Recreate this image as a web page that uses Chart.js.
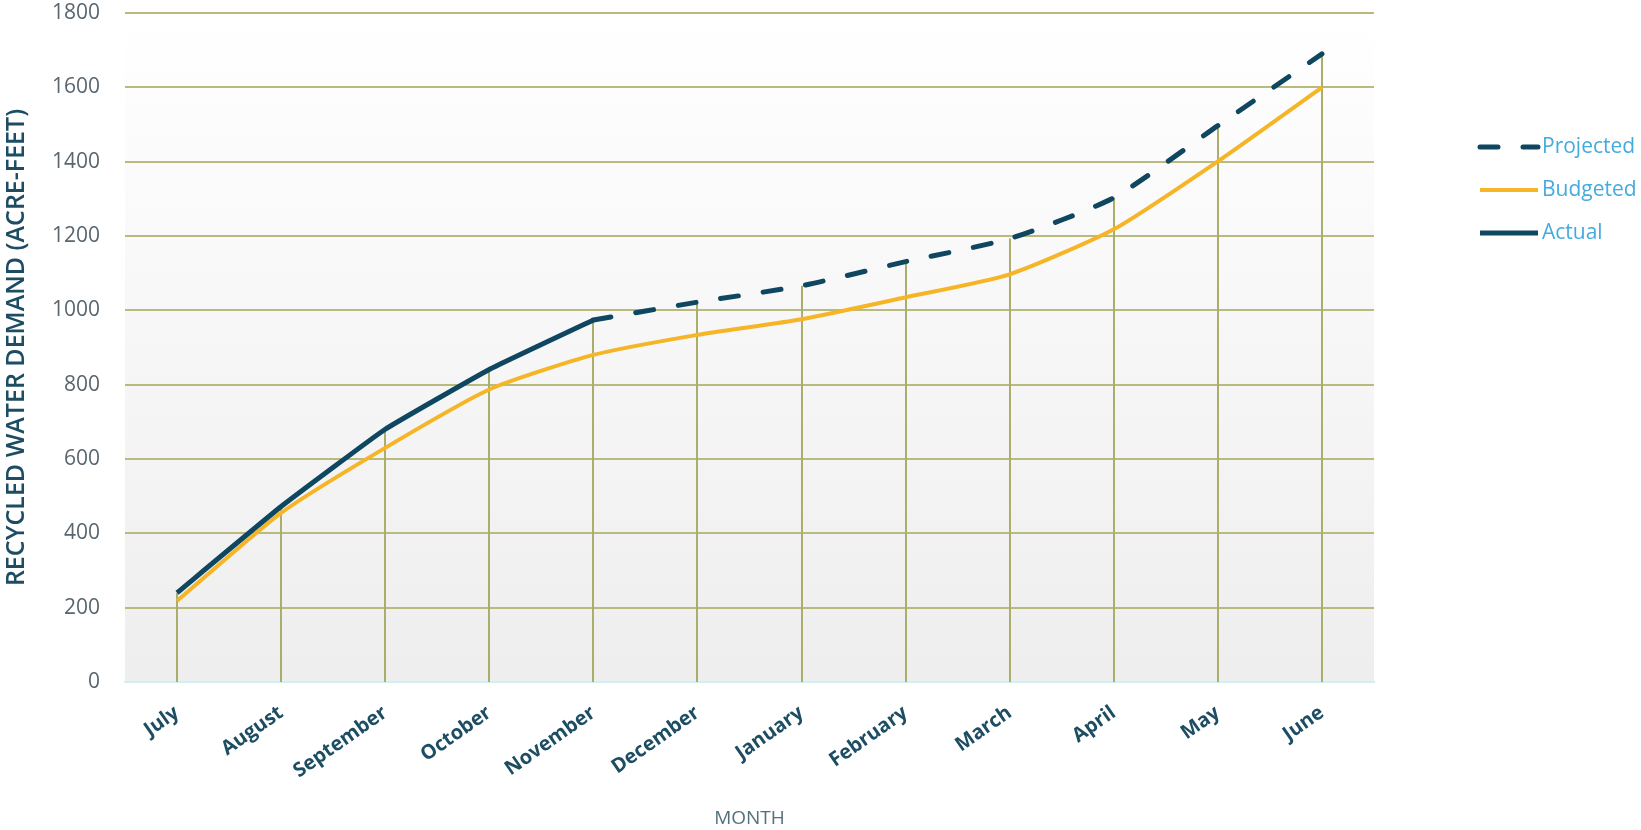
<!DOCTYPE html>
<html>
<head>
<meta charset="utf-8">
<title>Recycled Water Demand</title>
<script src="https://cdn.jsdelivr.net/npm/chart.js@4/dist/chart.umd.min.js"></script>
<style>
    html, body { margin: 0; padding: 0; background: #ffffff; }
    #wrap { width: 1641px; height: 830px; position: relative; }
</style>
</head>
<body>
<div id="wrap"><canvas id="chart"></canvas></div>
<script>
// fiscal year, July to June
const months = ["July", "August", "September", "October", "November", "December",
    "January", "February", "March", "April", "May", "June"];

// acre-feet, cumulative
const projected = [null, null, null, null, 974, 1022, 1066, 1131, 1193, 1303, 1497, 1690];
const budgeted = [218, 455, 630, 787, 880, 934, 976, 1035, 1097, 1218, 1401, 1600];
const actual = [240, 472, 680, 841, 974, null, null, null, null, null, null, null];

const yMin = 0;
const yMax = 1800;
const yStep = 200;

const DARK = "#0f4660";
const ORANGE = "#f5b526";
const OLIVE = "#b9bb7e";

// white-to-grey wash behind the plot
const plotBackground = {
    id: "plotBackground",
    beforeDraw(chart) {
        const { ctx, chartArea: a } = chart;
        const g = ctx.createLinearGradient(0, a.top, 0, a.bottom);
        g.addColorStop(0, "#ffffff");
        g.addColorStop(1, "#eeeeee");
        ctx.save();
        ctx.fillStyle = g;
        ctx.fillRect(a.left, a.top, a.right - a.left, a.bottom - a.top);
        ctx.restore();
    }
};

// vertical drop line from the highest value of each month to the axis
const dropLines = {
    id: "dropLines",
    beforeDatasetsDraw(chart) {
        const { ctx, chartArea: a, scales: { x, y } } = chart;
        ctx.save();
        ctx.strokeStyle = "#abad6a";
        ctx.lineWidth = 2;
        months.forEach((m, i) => {
            const vals = chart.data.datasets.map(d => d.data[i]).filter(v => v != null);
            if (!vals.length) return;
            const px = Math.round(x.getPixelForValue(i));
            ctx.beginPath();
            ctx.moveTo(px, y.getPixelForValue(Math.max(...vals)));
            ctx.lineTo(px, a.bottom);
            ctx.stroke();
        });
        ctx.restore();
    }
};

// legend off to the right of the plot
const sideLegend = {
    id: "sideLegend",
    afterDraw(chart) {
        const { ctx, chartArea: a } = chart;
        const left = a.right + 106;
        let yy = a.top + 134;
        ctx.save();
        ctx.font = "21px 'Open Sans'";
        ctx.textBaseline = "middle";
        ctx.fillStyle = "#45abdd";
        chart.data.datasets.forEach(ds => {
            ctx.strokeStyle = ds.borderColor;
            ctx.lineWidth = ds.borderWidth;
            ctx.lineCap = ds.borderCapStyle || "butt";
            ctx.setLineDash(ds.borderDash || []);
            ctx.beginPath();
            ctx.moveTo(left, yy);
            ctx.lineTo(left + 58, yy);
            ctx.stroke();
            ctx.fillText(ds.label, left + 62, yy);
            yy += 43;
        });
        ctx.restore();
    }
};

const ctx = document.getElementById("chart");

new Chart(ctx, {
    type: "line",
    data: {
        labels: months,
        datasets: [
            {
                label: "Projected",
                data: projected,
                borderColor: DARK,
                borderWidth: 5,
                borderDash: [18, 25],
                borderCapStyle: "round",
                tension: 0.2,
                pointRadius: 0,
                order: 1
            },
            {
                label: "Budgeted",
                data: budgeted,
                borderColor: ORANGE,
                borderWidth: 4,
                tension: 0.2,
                pointRadius: 0,
                order: 2
            },
            {
                label: "Actual",
                data: actual,
                borderColor: DARK,
                borderWidth: 5,
                tension: 0.1,
                pointRadius: 0,
                order: 0
            }
        ]
    },
    options: {
        responsive: true,
        maintainAspectRatio: false,
        animation: false,
        layout: { padding: { top: 0, right: 267, bottom: 0, left: 0 } },
        plugins: {
            legend: { display: false },
            tooltip: { enabled: false }
        },
        scales: {
            x: {
                offset: true,
                grid: { color: "transparent", drawTicks: false },
                border: { display: true, color: "#d3eef2", width: 2 },
                ticks: {
                    color: "#1d4d63",
                    font: { family: "'Open Sans'", size: 20, weight: "bold" },
                    minRotation: 35,
                    maxRotation: 35,
                    padding: 19
                },
                title: {
                    display: true,
                    text: "MONTH",
                    color: "#55707c",
                    font: { family: "'Open Sans'", size: 19 },
                    padding: { top: 0, bottom: 0 }
                },
                afterFit(scale) { scale.height = 148; }
            },
            y: {
                min: yMin,
                max: yMax,
                border: { display: false },
                grid: {
                    drawTicks: false,
                    lineWidth: 2,
                    color: c => (c.tick && c.tick.value === 0 ? "transparent" : OLIVE)
                },
                ticks: {
                    stepSize: yStep,
                    color: "#59666f",
                    font: { family: "'Open Sans'", size: 21 },
                    padding: 25,
                    callback: v => String(v)
                },
                title: {
                    display: true,
                    text: "RECYCLED WATER DEMAND (ACRE-FEET)",
                    color: "#1d4d63",
                    font: { family: "'Open Sans'", size: 25, weight: "600" },
                    padding: { top: 2, bottom: 0 }
                },
                afterFit(scale) {
                    scale.width = 125;
                    // keep the top gridline close to the canvas edge
                    scale.paddingTop = 13;
                }
            }
        }
    },
    plugins: [plotBackground, dropLines, sideLegend]
});
</script>
</body>
</html>
